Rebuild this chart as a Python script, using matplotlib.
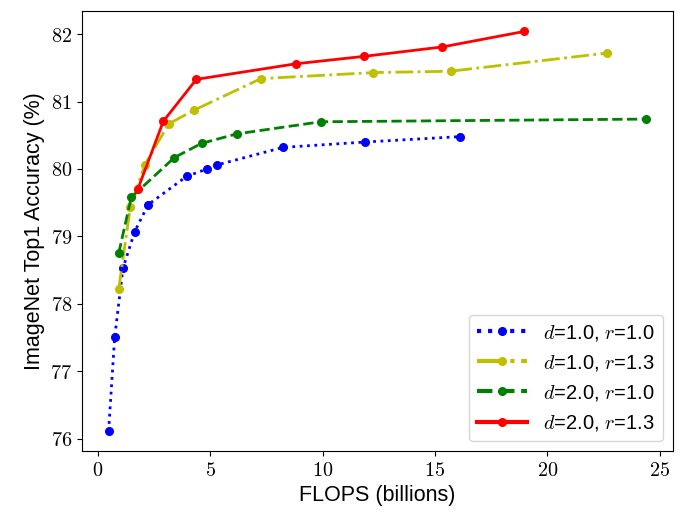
import matplotlib
matplotlib.use("Agg")
import matplotlib.pyplot as plt
from matplotlib.ticker import FuncFormatter

# FLOPS (billions) and top-1 accuracy for each baseline (d, r)
flops_d10_r10 = [0.47, 0.74, 1.11, 1.63, 2.23, 3.94, 4.85, 5.30, 8.23, 11.90, 16.12]
acc_d10_r10 = [76.11, 77.50, 78.53, 79.07, 79.47, 79.89, 80.00, 80.06, 80.32, 80.40, 80.48]

flops_d10_r13 = [0.92, 1.44, 2.08, 3.15, 4.26, 7.25, 12.26, 15.69, 22.67]
acc_d10_r13 = [78.22, 79.44, 80.06, 80.67, 80.87, 81.34, 81.43, 81.45, 81.72]

flops_d20_r10 = [0.92, 1.48, 3.40, 4.61, 6.17, 9.91, 24.39]
acc_d20_r10 = [78.75, 79.58, 80.17, 80.38, 80.52, 80.70, 80.74]

flops_d20_r13 = [1.77, 2.91, 4.38, 8.80, 11.83, 15.32, 18.97]
acc_d20_r13 = [79.70, 80.71, 81.33, 81.56, 81.67, 81.81, 82.04]

plt.rcParams["mathtext.fontset"] = "cm"
plt.rcParams["font.family"] = ["Liberation Sans", "DejaVu Sans"]

fig, ax = plt.subplots(figsize=(6.81, 5.21), dpi=100)
fig.subplots_adjust(left=0.12, right=0.988, bottom=0.134, top=0.978)

ax.plot(flops_d10_r10, acc_d10_r10, "b:", marker="o", markersize=5.5, lw=2,
        label=r"$d$=1.0, $r$=1.0")
ax.plot(flops_d10_r13, acc_d10_r13, "y-.", marker="o", markersize=5.5, lw=2,
        label=r"$d$=1.0, $r$=1.3")
ax.plot(flops_d20_r10, acc_d20_r10, "g--", marker="o", markersize=5.5, lw=2,
        label=r"$d$=2.0, $r$=1.0")
ax.plot(flops_d20_r13, acc_d20_r13, "r-", marker="o", markersize=5.5, lw=2,
        label=r"$d$=2.0, $r$=1.3")

ax.set_xticks([0, 5, 10, 15, 20, 25])
ax.set_yticks([76, 77, 78, 79, 80, 81, 82])
fmt = FuncFormatter(lambda v, p: f"${v:g}$")
ax.xaxis.set_major_formatter(fmt)
ax.yaxis.set_major_formatter(fmt)
ax.tick_params(labelsize=14.5)

ax.set_xlabel("FLOPS (billions)", fontsize=15.5)
ax.set_ylabel("ImageNet Top1 Accuracy (%)", fontsize=15.5)

leg = ax.legend(loc="lower right", fontsize=14.5, handlelength=2.5)
for h in leg.get_lines():
    h.set_linewidth(3)

plt.savefig("out.png", dpi=100)
plt.close()
